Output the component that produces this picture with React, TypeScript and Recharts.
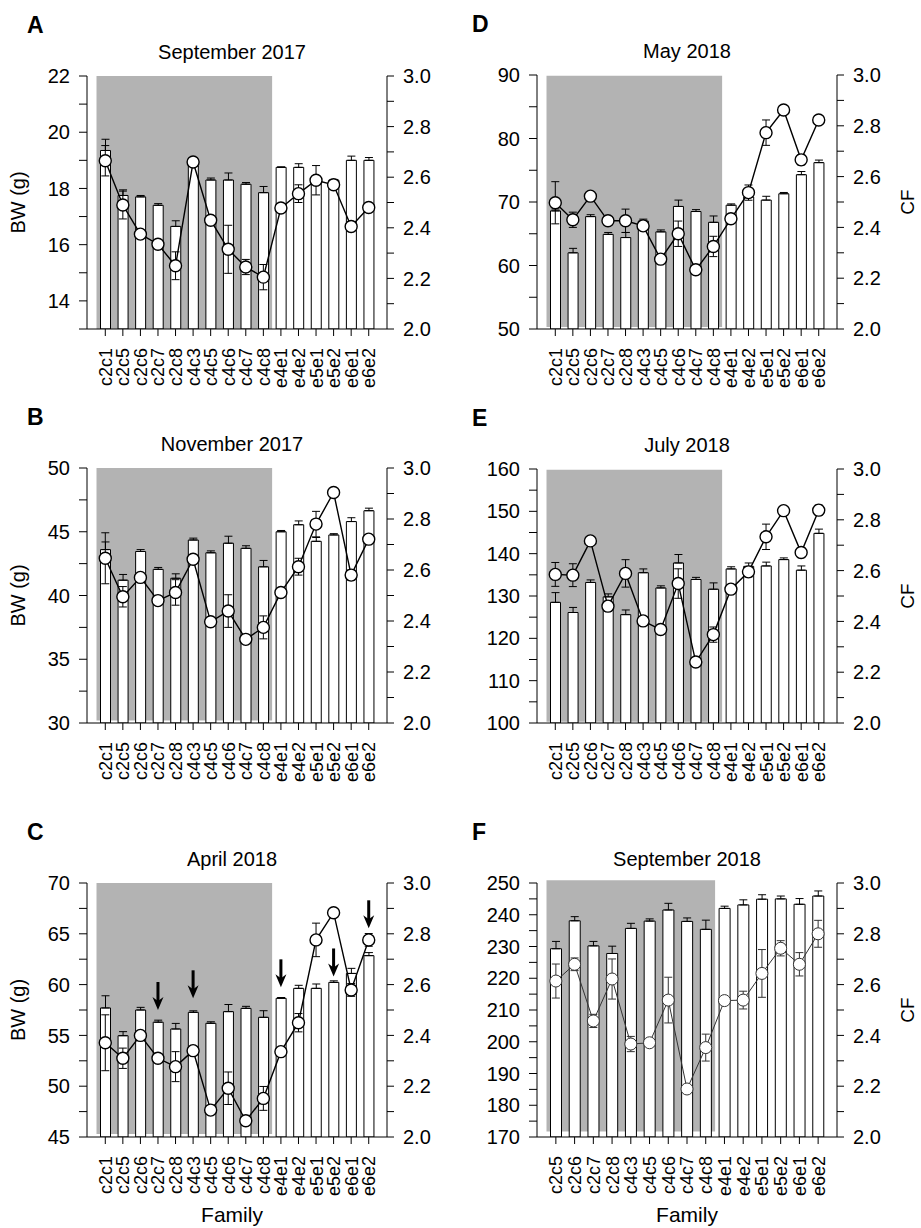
import React from "react";
import { ComposedChart, Bar, Line, XAxis, YAxis, ErrorBar, ReferenceArea } from "recharts";

const FONT = "'Liberation Sans', Arial, Helvetica, sans-serif";

const families = ["c2c1", "c2c5", "c2c6", "c2c7", "c2c8", "c4c3", "c4c5", "c4c6", "c4c7", "c4c8", "e4e1", "e4e2", "e5e1", "e5e2", "e6e1", "e6e2"];
const familiesF = ["c2c5", "c2c6", "c2c7", "c2c8", "c4c3", "c4c5", "c4c6", "c4c7", "c4c8", "e4e1", "e4e2", "e5e1", "e5e2", "e6e1", "e6e2"];

// A - September 2017
const bwA = [19.35, 17.75, 17.7, 17.4, 16.65, 18.8, 18.3, 18.3, 18.15, 17.85, 18.75, 18.75, 18.25, 18.3, 19.0, 19.0];
const bwErrA = [0.4, 0.2, 0.05, 0.06, 0.2, 0.1, 0.07, 0.25, 0.06, 0.22, 0.02, 0.13, 0.05, 0.02, 0.15, 0.1];
const cfA = [2.665, 2.49, 2.375, 2.335, 2.25, 2.66, 2.43, 2.315, 2.245, 2.205, 2.478, 2.535, 2.588, 2.57, 2.405, 2.48];
const cfErrA = [0.06, 0.055, 0.01, 0.01, 0.055, 0.01, 0.01, 0.095, 0.03, 0.05, 0.01, 0.035, 0.058, 0.01, 0.02, 0.01];

// B - November 2017
const bwB = [43.6, 41.2, 43.45, 42.05, 41.35, 44.35, 43.35, 44.1, 43.7, 42.25, 45.0, 45.55, 44.25, 44.75, 45.8, 46.65];
const bwErrB = [0.6, 0.45, 0.15, 0.15, 0.35, 0.15, 0.15, 0.55, 0.2, 0.5, 0.1, 0.3, 0.3, 0.1, 0.3, 0.2];
const cfB = [2.646, 2.495, 2.571, 2.48, 2.512, 2.642, 2.397, 2.439, 2.328, 2.375, 2.512, 2.613, 2.78, 2.904, 2.58, 2.721];
const cfErrB = [0.1, 0.04, 0.01, 0.01, 0.05, 0.01, 0.01, 0.064, 0.01, 0.045, 0.01, 0.033, 0.05, 0.01, 0.02, 0.01];

// C - April 2018
const bwC = [57.7, 54.97, 57.5, 56.3, 55.63, 57.27, 56.19, 57.34, 57.66, 56.78, 58.65, 59.63, 59.63, 60.22, 61.1, 62.85];
const bwErrC = [1.2, 0.4, 0.26, 0.2, 0.55, 0.15, 0.15, 0.7, 0.2, 0.65, 0.08, 0.3, 0.43, 0.15, 0.5, 0.3];
const cfC = [2.371, 2.31, 2.4, 2.31, 2.277, 2.34, 2.106, 2.192, 2.064, 2.152, 2.336, 2.45, 2.776, 2.883, 2.579, 2.776];
const cfErrC = [0.11, 0.04, 0.01, 0.01, 0.059, 0.01, 0.01, 0.064, 0.01, 0.047, 0.01, 0.036, 0.066, 0.01, 0.025, 0.025];
const arrowsC = [null, null, null, 57.5, null, 58.65, null, null, null, null, 59.73, null, null, 60.8, null, 65.54];

// D - May 2018
const bwD = [68.6, 62.0, 67.7, 64.9, 64.4, 67.0, 65.3, 69.3, 68.5, 66.8, 69.5, 70.8, 70.3, 71.3, 74.3, 76.2];
const bwErrD = [0.3, 0.7, 0.3, 0.3, 0.8, 0.3, 0.3, 1.0, 0.3, 1.0, 0.2, 0.5, 0.6, 0.2, 0.5, 0.4];
const cfD = [2.497, 2.43, 2.523, 2.426, 2.426, 2.406, 2.275, 2.375, 2.233, 2.325, 2.434, 2.537, 2.773, 2.862, 2.666, 2.823];
const cfErrD = [0.083, 0.03, 0.01, 0.01, 0.046, 0.01, 0.01, 0.05, 0.01, 0.04, 0.01, 0.03, 0.05, 0.01, 0.02, 0.01];

// E - July 2018
const bwE = [128.5, 126.1, 133.2, 129.8, 125.6, 135.5, 131.9, 137.8, 133.9, 131.6, 136.4, 137.0, 137.1, 138.6, 136.1, 144.8];
const bwErrE = [2.3, 1.2, 0.6, 0.7, 1.1, 0.9, 0.5, 2.0, 0.5, 1.5, 0.5, 0.8, 0.9, 0.4, 1.0, 1.0];
const cfE = [2.585, 2.582, 2.717, 2.46, 2.589, 2.402, 2.368, 2.549, 2.24, 2.348, 2.527, 2.595, 2.733, 2.836, 2.671, 2.838];
const cfErrE = [0.047, 0.045, 0.01, 0.02, 0.054, 0.01, 0.01, 0.058, 0.01, 0.03, 0.01, 0.02, 0.05, 0.01, 0.02, 0.02];

// F - September 2018 (no c2c1)
const bwF = [229.3, 238.1, 230.2, 227.8, 235.7, 238.0, 241.5, 237.9, 235.4, 242.0, 243.1, 244.9, 245.0, 243.3, 245.9];
const bwErrF = [2.3, 1.3, 1.4, 2.3, 1.6, 0.7, 2.1, 1.1, 2.9, 0.7, 1.6, 1.4, 0.9, 1.8, 1.6];
const cfF = [2.614, 2.68, 2.457, 2.622, 2.366, 2.371, 2.539, 2.189, 2.352, 2.537, 2.539, 2.644, 2.743, 2.68, 2.8];
const cfErrF = [0.067, 0.025, 0.026, 0.079, 0.03, 0.01, 0.09, 0.01, 0.053, 0.01, 0.035, 0.094, 0.03, 0.046, 0.053];

const cfTicks = [2.0, 2.1, 2.2, 2.3, 2.4, 2.5, 2.6, 2.7, 2.8, 2.9, 3.0];
const bwTicksA = [13, 14, 15, 16, 17, 18, 19, 20, 21, 22];
const bwTicksB = [30, 32.5, 35, 37.5, 40, 42.5, 45, 47.5, 50];
const bwTicksC = [45, 47.5, 50, 52.5, 55, 57.5, 60, 62.5, 65, 67.5, 70];
const bwTicksD = [50, 55, 60, 65, 70, 75, 80, 85, 90];
const bwTicksE = [100, 105, 110, 115, 120, 125, 130, 135, 140, 145, 150, 155, 160];
const bwTicksF = [170, 175, 180, 185, 190, 195, 200, 205, 210, 215, 220, 225, 230, 235, 240, 245, 250];

const panels = [
  { letter: "A", title: "September 2017", cats: families, bw: bwA, bwErr: bwErrA, cf: cfA, cfErr: cfErrA, ticks: bwTicksA, major: 2, gray: [13, 22], col: 0, top: 76, bottom: 329 },
  { letter: "B", title: "November 2017", cats: families, bw: bwB, bwErr: bwErrB, cf: cfB, cfErr: cfErrB, ticks: bwTicksB, major: 5, gray: [30.2, 50], col: 0, top: 468, bottom: 723 },
  { letter: "C", title: "April 2018", cats: families, bw: bwC, bwErr: bwErrC, cf: cfC, cfErr: cfErrC, arrows: arrowsC, ticks: bwTicksC, major: 5, gray: [45.3, 70], col: 0, top: 883, bottom: 1137, family: true },
  { letter: "D", title: "May 2018", cats: families, bw: bwD, bwErr: bwErrD, cf: cfD, cfErr: cfErrD, ticks: bwTicksD, major: 10, gray: [50.3, 89.9], col: 1, top: 75, bottom: 329 },
  { letter: "E", title: "July 2018", cats: families, bw: bwE, bwErr: bwErrE, cf: cfE, cfErr: cfErrE, ticks: bwTicksE, major: 10, gray: [100.3, 159.8], col: 1, top: 469, bottom: 723 },
  { letter: "F", title: "September 2018", cats: familiesF, bw: bwF, bwErr: bwErrF, cf: cfF, cfErr: cfErrF, ticks: bwTicksF, major: 10, gray: [171.7, 250.9], col: 1, top: 883, bottom: 1137, family: true, thin: true },
];

const FamilyTick = (props: any) => {
  const { x, y, payload } = props;
  return (
    <text x={x} y={y} transform={`rotate(-90, ${x}, ${y})`} textAnchor="end" dy="0.36em"
      fontSize={18} fontFamily={FONT} fill="#000">
      {payload.value}
    </text>
  );
};

const renderArrow = (props: any) => {
  const { cx, cy, index } = props;
  if (cy == null || isNaN(cy)) return <g key={`a${index}`} />;
  return (
    <g key={`a${index}`}>
      <rect x={cx - 1.5} y={cy - 28} width={3} height={20} fill="#000" />
      <path d={`M${cx - 5.5},${cy - 13} L${cx},${cy} L${cx + 5.5},${cy - 13} L${cx},${cy - 9} Z`} fill="#000" />
    </g>
  );
};

function Panel({ p }: { p: any }) {
  const data = p.cats.map((f: string, i: number) => ({
    family: f,
    bw: p.bw[i],
    bwErr: [0, p.bwErr[i]],
    cf: p.cf[i],
    cfErr: p.cfErr[i],
    arrow: p.arrows ? p.arrows[i] : null,
  }));
  const marginTop = 12;
  const plotH = p.bottom - p.top;
  const height = marginTop + plotH + 72;
  const isMajor = (v: number) => Math.abs(v / p.major - Math.round(v / p.major)) < 1e-6;
  const lineW = p.thin ? 1 : 1.4;
  const lineC = p.thin ? "#333" : "#000";
  return (
    <div style={{ position: "absolute", left: p.col === 0 ? 0 : 450, top: p.top - marginTop }}>
      <ComposedChart width={460} height={height} data={data}
        margin={{ top: marginTop, right: 13, bottom: 0, left: 27 }}>
        <XAxis dataKey="family" interval={0} padding={{ left: 9.5, right: 9.5 }} tickSize={7} tickMargin={12}
          tick={<FamilyTick />} height={72} axisLine={{ stroke: "#000" }} tickLine={{ stroke: "#000" }} />
        <YAxis yAxisId="bw" orientation="left" width={60} type="number" domain={[p.ticks[0], p.ticks[p.ticks.length - 1]]}
          allowDataOverflow ticks={p.ticks} interval={0} tickSize={8} tickMargin={9}
          tickFormatter={(v: number) => (isMajor(v) ? String(v) : "")}
          tick={{ fontSize: 20, fill: "#000", fontFamily: FONT }}
          axisLine={{ stroke: "#000" }} tickLine={{ stroke: "#000" }} />
        <YAxis yAxisId="cf" orientation="right" width={60} type="number" domain={[2, 3]}
          allowDataOverflow ticks={cfTicks} interval={0} tickSize={7} tickMargin={9}
          tickFormatter={(v: number) => (Math.round(v * 10) % 2 === 0 ? v.toFixed(1) : "")}
          tick={{ fontSize: 20, fill: "#000", fontFamily: FONT }}
          axisLine={{ stroke: "#000" }} tickLine={{ stroke: "#000" }} />
        <ReferenceArea yAxisId="bw" x1={p.cats[0]} x2="c4c8" y1={p.gray[0]} y2={p.gray[1]}
          fill="#b3b3b3" fillOpacity={1} stroke="none" ifOverflow="visible" />
        <Bar yAxisId="bw" dataKey="bw" fill="#fff" stroke="#000" strokeWidth={1}
          barSize={p.cats.length === 15 ? 11 : 10} isAnimationActive={false}>
          <ErrorBar dataKey="bwErr" width={4} stroke="#000" strokeWidth={1} direction="y" />
        </Bar>
        <Line yAxisId="cf" dataKey="cf" stroke={lineC} strokeWidth={lineW}
          dot={{ r: 6, fill: "#fff", stroke: lineC, strokeWidth: lineW }} activeDot={false} isAnimationActive={false}>
          <ErrorBar dataKey="cfErr" width={4} stroke={lineC} strokeWidth={1} direction="y" />
        </Line>
        {p.arrows && (
          <Line yAxisId="bw" dataKey="arrow" stroke="none" dot={renderArrow} activeDot={false}
            isAnimationActive={false} connectNulls={false} />
        )}
      </ComposedChart>
    </div>
  );
}

export default function App() {
  return (
    <div style={{ position: "absolute", left: 0, top: 0, width: 921, height: 1228, background: "#fff", fontFamily: FONT }}>
      {panels.map((p) => (
        <Panel key={p.letter} p={p} />
      ))}
      <svg width={921} height={1228} style={{ position: "absolute", left: 0, top: 0, pointerEvents: "none" }}>
        {panels.map((p) => {
          const cx = p.col === 0 ? 232 : 687;
          const lx = p.col === 0 ? 27 : 472;
          const mid = (p.top + p.bottom) / 2;
          return (
            <g key={p.letter} fontFamily={FONT} fill="#000">
              <text x={lx} y={p.top - 43} fontSize={23} fontWeight="bold">{p.letter}</text>
              <text x={cx} y={p.top - 17} fontSize={20} textAnchor="middle">{p.title}</text>
              {p.col === 0 ? (
                <text x={18} y={mid} fontSize={20} textAnchor="middle" dy="0.35em" transform={`rotate(-90, 18, ${mid})`}>BW (g)</text>
              ) : (
                <text x={907} y={mid} fontSize={19} textAnchor="middle" dy="0.35em" transform={`rotate(-90, 907, ${mid})`}>CF</text>
              )}
              {p.family && (
                <text x={cx} y={1222} fontSize={21} textAnchor="middle">Family</text>
              )}
            </g>
          );
        })}
      </svg>
    </div>
  );
}
